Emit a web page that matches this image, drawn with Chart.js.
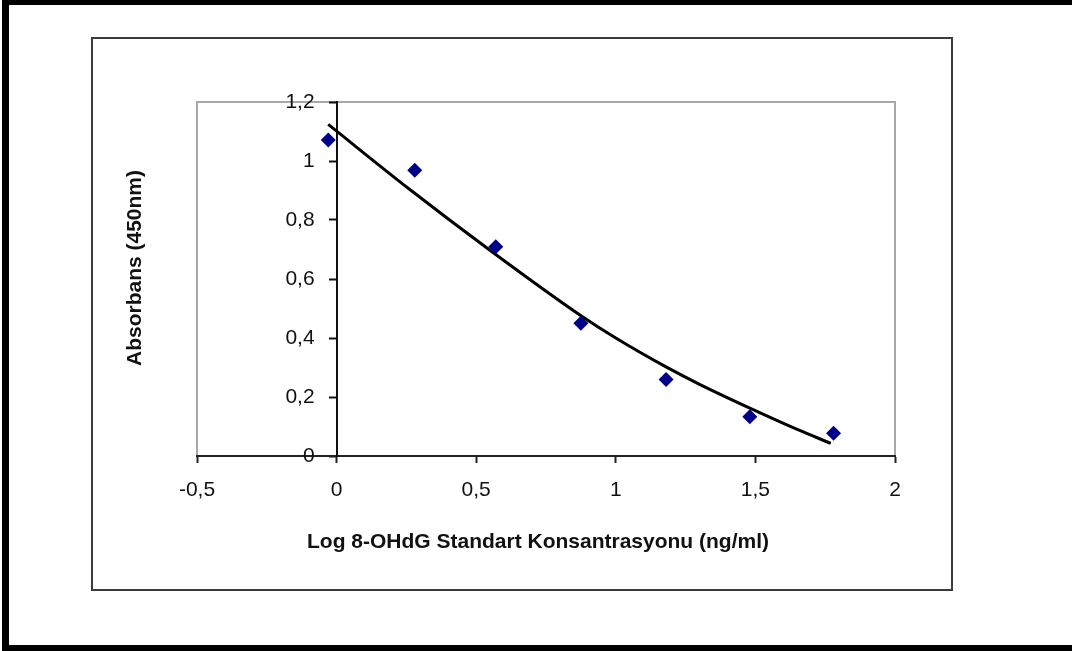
<!DOCTYPE html>
<html lang="tr">
<head>
<meta charset="UTF-8">
<title>8-OHdG Standart Eğrisi</title>
<script src="https://cdn.jsdelivr.net/npm/chart.js"></script>
<style>
  body { margin: 0; background: #fff; font-family: "Liberation Sans", Arial, sans-serif; }
  .frame {
    position: absolute; left: 2px; top: 0; width: 1070px; height: 651px;
    box-sizing: border-box;
    border-top: 5px solid #000; border-left: 7px solid #000; border-bottom: 6px solid #000;
  }
  .box {
    position: absolute; left: 91px; top: 37px; width: 862px; height: 554px;
    box-sizing: border-box; border: 2px solid #3c3c3c;
  }
  canvas { position: absolute; left: 0; top: 0; }
</style>
</head>
<body>
<div class="frame"></div>
<div class="box"></div>
<canvas id="chart" width="1072" height="651"></canvas>

<script>
// measured standards (log concentration vs absorbance)
const logConc = [-0.03, 0.28, 0.57, 0.875, 1.18, 1.48, 1.78];
const absorb = [1.071, 0.969, 0.709, 0.450, 0.259, 0.133, 0.077];

// trendline
const trendX = [-0.03, 0.26, 0.56, 0.87, 1.0, 1.18, 1.3, 1.49, 1.65, 1.77];
const trendY = [1.124, 0.905, 0.690, 0.479, 0.400, 0.302, 0.243, 0.158, 0.090, 0.043];

const xTicks = [-0.5, 0, 0.5, 1, 1.5, 2];
const xTickLabels = ['-0,5', '0', '0,5', '1', '1,5', '2'];
const yTicks = [0, 0.2, 0.4, 0.6, 0.8, 1, 1.2];
const yTickLabels = ['0', '0,2', '0,4', '0,6', '0,8', '1', '1,2'];

const xTitle = 'Log 8-OHdG Standart Konsantrasyonu (ng/ml)';
const yTitle = 'Absorbans (450nm)';

const tickFont = { family: '"Liberation Sans", Arial, sans-serif', size: 21 };
const titleFont = 'bold 21px "Liberation Sans", Arial, sans-serif';

// y axis sits at x = 0, so its labels need pushing left of the tick marks
const yLabelGap = 22;

const plotFrame = {
    id: 'plotFrame',
    afterLayout(chart) {
        const s = chart.scales.y;
        if (s._gapPatched) return;
        const orig = s._computeLabelItems.bind(s);
        s._computeLabelItems = (area) => orig(area).map(it => {
            it.options.translation[0] -= yLabelGap;
            return it;
        });
        s._gapPatched = true;
    },
    beforeDraw(chart) {
        const a = chart.chartArea;
        const ctx = chart.ctx;
        ctx.save();
        ctx.strokeStyle = '#a8a8a8';
        ctx.lineWidth = 2;
        ctx.strokeRect(a.left, a.top, a.right - a.left, a.bottom - a.top);
        ctx.restore();
    },
    afterDraw(chart) {
        const a = chart.chartArea;
        const ctx = chart.ctx;
        ctx.save();
        ctx.fillStyle = '#111';
        ctx.font = titleFont;
        ctx.textAlign = 'center';
        ctx.textBaseline = 'middle';
        ctx.fillText(xTitle, a.left + 341, a.bottom + 86);
        ctx.translate(a.left - 62, a.top + 166);
        ctx.rotate(-Math.PI / 2);
        ctx.fillText(yTitle, 0, 0);
        ctx.restore();
    }
};

new Chart(document.getElementById('chart'), {
    type: 'scatter',
    data: {
        datasets: [{
            label: 'Standart',
            data: logConc.map((x, i) => ({ x: x, y: absorb[i] })),
            pointStyle: 'rectRot',
            pointRadius: 7.5,
            pointBorderWidth: 0,
            backgroundColor: '#00008b',
            borderColor: '#00008b',
            order: 0
        }, {
            label: 'Trend',
            data: trendX.map((x, i) => ({ x: x, y: trendY[i] })),
            showLine: true,
            pointRadius: 0,
            borderColor: '#000',
            borderWidth: 3,
            cubicInterpolationMode: 'monotone',
            order: 1
        }]
    },
    options: {
        responsive: false,
        animation: false,
        devicePixelRatio: 1,
        layout: { padding: { left: 197, top: 102, right: 177, bottom: 195 } },
        plugins: {
            legend: { display: false },
            tooltip: { enabled: false }
        },
        scales: {
            x: {
                type: 'linear',
                position: { y: 0 },
                min: -0.5,
                max: 2,
                afterBuildTicks: s => { s.ticks = xTicks.map(v => ({ value: v })); },
                ticks: {
                    callback: (v, i) => xTickLabels[i],
                    font: tickFont,
                    color: '#111',
                    padding: 16,
                    maxRotation: 0
                },
                grid: { drawOnChartArea: false, tickLength: 6, tickColor: '#222', tickWidth: 2 },
                border: { color: '#222', width: 2 }
            },
            y: {
                type: 'linear',
                position: { x: 0 },
                min: 0,
                max: 1.2,
                afterBuildTicks: s => { s.ticks = yTicks.map(v => ({ value: v })); },
                ticks: {
                    callback: (v, i) => yTickLabels[i],
                    font: tickFont,
                    color: '#111',
                    padding: 14
                },
                grid: { drawOnChartArea: false, tickLength: 7, tickColor: '#111', tickWidth: 2 },
                border: { color: '#111', width: 2 }
            }
        }
    },
    plugins: [plotFrame]
});
</script>
</body>
</html>
